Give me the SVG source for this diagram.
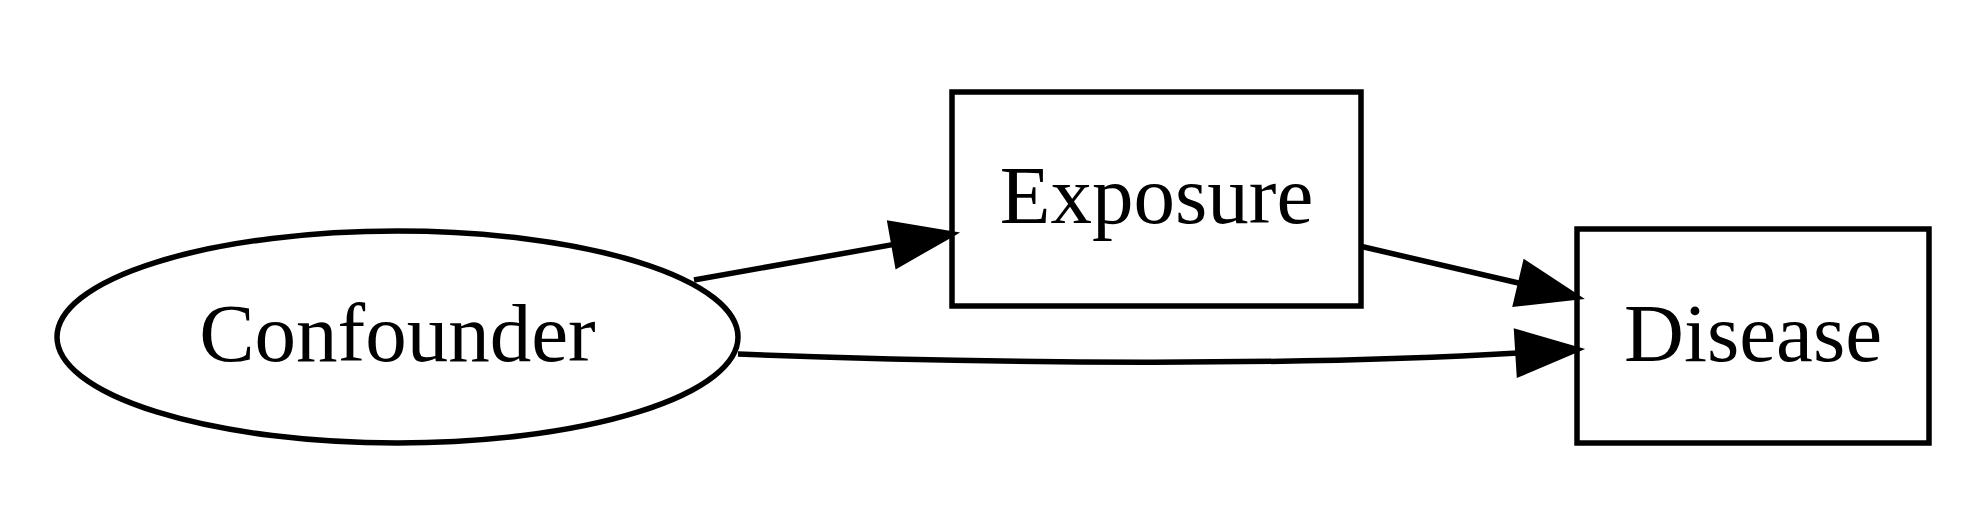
<svg xmlns="http://www.w3.org/2000/svg" width="1962" height="516" viewBox="0 0 1962 516">
<style>
.n{fill:none;stroke:#000;stroke-width:5.5}
.t{font-family:"Liberation Serif","Times New Roman",serif;font-size:83px;text-anchor:middle;fill:#000}
.e{fill:none;stroke:#000;stroke-width:5.5}
.a{fill:#000;stroke:#000;stroke-width:5.5;stroke-linejoin:miter}
</style>
<rect width="1962" height="516" fill="#fff"/>
<g id="confounder">
<ellipse class="n" cx="397.5" cy="337" rx="340.5" ry="106"/>
<text class="t" x="397.5" y="361">Confounder</text>
</g>
<g id="exposure">
<rect class="n" x="952" y="92" width="409" height="214"/>
<text class="t" x="1156.5" y="223">Exposure</text>
</g>
<g id="disease">
<rect class="n" x="1577" y="229" width="352" height="214"/>
<text class="t" x="1753" y="361">Disease</text>
</g>
<g id="edges">
<path class="e" d="M694,280 L894,244.4"/>
<polygon class="a" points="952,234 897.6,265.1 890.2,223.7"/>
<path class="e" d="M1359.5,246 L1520.6,283.5"/>
<polygon class="a" points="1577,297 1515.8,303.9 1525.4,263.1"/>
<path class="e" d="M738,354 C1000,364 1300,366 1518,353"/>
<polygon class="a" points="1577,349.5 1519.3,374 1516.7,332"/>
</g>
</svg>
